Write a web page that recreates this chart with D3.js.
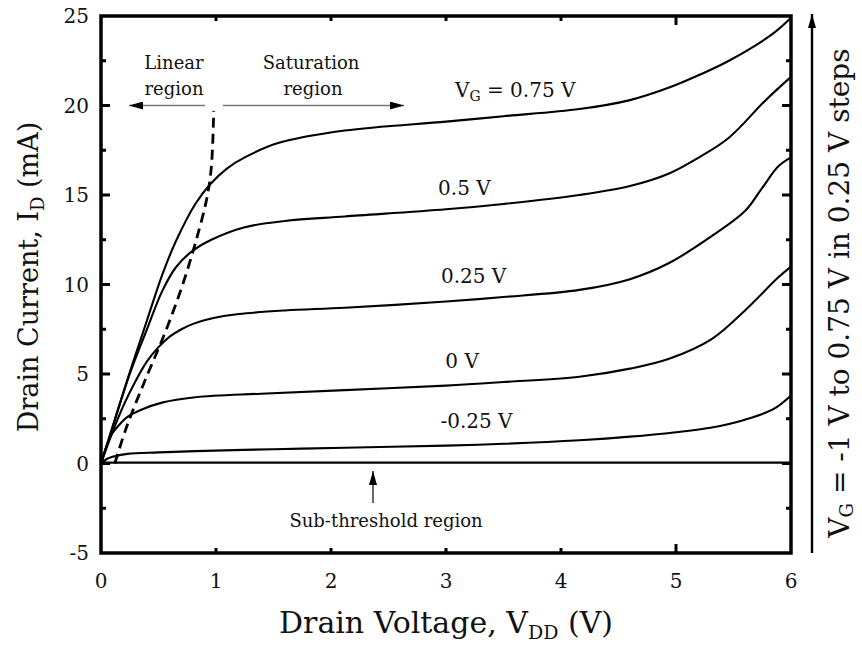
<!DOCTYPE html>
<html>
<head>
<meta charset="utf-8">
<script src="https://cdn.jsdelivr.net/npm/d3@7/dist/d3.min.js"></script>
<style>
  body { margin: 0; background: #fff; }
  text { font-family: "DejaVu Serif", serif; fill: #111; }
</style>
</head>
<body>
<div id="chart"></div>
<script>
const W = 862, H = 649;

// drain voltage (V) / drain current (mA)
const vg075 = [[0,0],[0.1,2.05],[0.25,5.1],[0.4,8.0],[0.53,10.5],[0.65,12.4],[0.82,14.5],[0.95,15.6],[1.1,16.5],[1.25,17.1],[1.54,17.9],[2.12,18.6],[3,19.1],[3.5,19.4],[4.16,19.8],[4.6,20.3],[4.94,21.0],[5.2,21.7],[5.46,22.5],[5.84,24.0],[6,24.9]];
const vg050 = [[0,0],[0.1,2.0],[0.25,5.0],[0.4,7.5],[0.53,9.6],[0.65,10.95],[0.79,11.85],[0.96,12.5],[1.25,13.2],[1.6,13.55],[2.12,13.8],[3,14.2],[3.5,14.5],[4.16,15.0],[4.6,15.5],[4.94,16.2],[5.2,17.1],[5.46,18.2],[5.78,20.3],[6,21.6]];
const vg025 = [[0,0],[0.1,1.75],[0.2,3.3],[0.3,4.6],[0.4,5.7],[0.5,6.5],[0.6,7.1],[0.7,7.5],[0.8,7.8],[0.96,8.1],[1.2,8.35],[1.6,8.55],[2.12,8.7],[3,9.05],[3.5,9.3],[4.16,9.7],[4.6,10.3],[4.94,11.2],[5.31,12.7],[5.6,14.1],[5.75,15.4],[5.89,16.6],[6,17.1]];
const vg000 = [[0,0],[0.05,1.0],[0.1,1.7],[0.15,2.1],[0.23,2.6],[0.35,3.0],[0.53,3.4],[0.82,3.7],[1.39,3.9],[2.12,4.1],[3,4.35],[3.5,4.55],[4.16,4.85],[4.6,5.3],[4.94,5.85],[5.31,6.95],[5.6,8.55],[5.89,10.4],[6,11.0]];
const vgm025 = [[0,0],[0.05,0.25],[0.1,0.38],[0.23,0.54],[0.5,0.62],[0.82,0.69],[1.5,0.8],[2.12,0.88],[3,1.0],[3.5,1.1],[4.16,1.3],[4.6,1.5],[5.0,1.75],[5.3,2.0],[5.6,2.45],[5.85,3.05],[6,3.8]];
const subThreshold = [[0,0.05],[6,0.05]];
const pinchOff = [[0.12,0],[0.22,2.0],[0.38,4.6],[0.55,7.2],[0.7,9.8],[0.82,12.3],[0.92,14.8],[0.96,16.6],[0.98,19.7]];

const curveLabels = [
  { text: "0.5 V", x: 3.16, y: 15.0 },
  { text: "0.25 V", x: 3.24, y: 10.08 },
  { text: "0 V", x: 3.14, y: 5.34 },
  { text: "-0.25 V", x: 3.265, y: 1.98 }
];

const xTicks = [0, 1, 2, 3, 4, 5, 6];
const yTicks = [-5, 0, 5, 10, 15, 20, 25];
const yMinor = [-2.5, 2.5, 7.5, 12.5, 17.5, 22.5];

const x = d3.scaleLinear().domain([0, 6]).range([101, 791]);
const y = d3.scaleLinear().domain([-5, 25]).range([553, 16]);

const svg = d3.select("#chart").append("svg")
  .attr("width", W)
  .attr("height", H);

const defs = svg.append("defs");
defs.append("marker")
  .attr("id", "head")
  .attr("viewBox", "0 0 14 8")
  .attr("refX", 14)
  .attr("refY", 4)
  .attr("markerUnits", "userSpaceOnUse")
  .attr("markerWidth", 14)
  .attr("markerHeight", 8)
  .attr("orient", "auto")
  .append("path")
  .attr("d", "M0,0 L14,4 L0,8 z")
  .attr("fill", "#000");

const line = d3.line()
  .x(d => x(d[0]))
  .y(d => y(d[1]))
  .curve(d3.curveCatmullRom.alpha(0.5));

// curves
const curves = [vg075, vg050, vg025, vg000, vgm025, subThreshold];
svg.append("g")
  .selectAll("path")
  .data(curves)
  .enter().append("path")
  .attr("d", line)
  .attr("fill", "none")
  .attr("stroke", "#000")
  .attr("stroke-width", 2.1);

svg.append("path")
  .attr("d", line(pinchOff))
  .attr("fill", "none")
  .attr("stroke", "#000")
  .attr("stroke-width", 2.8)
  .attr("stroke-dasharray", "10,6");

// frame + ticks
const axes = svg.append("g");
axes.append("rect")
  .attr("x", x(0)).attr("y", y(25))
  .attr("width", x(6) - x(0)).attr("height", y(-5) - y(25))
  .attr("fill", "none")
  .attr("stroke", "#000")
  .attr("stroke-width", 3.5);

xTicks.slice(1, -1).forEach(v => {
  const len = v === 5 ? 9 : 5;
  axes.append("line").attr("x1", x(v)).attr("x2", x(v)).attr("y1", y(-5)).attr("y2", y(-5) - len);
  axes.append("line").attr("x1", x(v)).attr("x2", x(v)).attr("y1", y(25)).attr("y2", y(25) + len);
});
yTicks.slice(1, -1).map(v => [v, true]).concat(yMinor.map(v => [v, false])).forEach(([v, major]) => {
  const len = major ? 9 : 5;
  axes.append("line").attr("x1", x(0)).attr("x2", x(0) + len).attr("y1", y(v)).attr("y2", y(v));
  axes.append("line").attr("x1", x(6)).attr("x2", x(6) - len).attr("y1", y(v)).attr("y2", y(v));
});
axes.selectAll("line").attr("stroke", "#000").attr("stroke-width", 3);

axes.selectAll(".xl")
  .data(xTicks)
  .enter().append("text")
  .attr("x", d => x(d))
  .attr("y", 588)
  .attr("text-anchor", "middle")
  .style("font-size", "20px")
  .text(d => d);

axes.selectAll(".yl")
  .data(yTicks)
  .enter().append("text")
  .attr("x", 89)
  .attr("y", d => y(d) + 7)
  .attr("text-anchor", "end")
  .style("font-size", "20px")
  .text(d => d);

// subscript helper: shifts down by dy px, then back up
function withSub(sel, main, sub, rest, subSize, dy) {
  sel.append("tspan").text(main);
  sel.append("tspan").attr("dy", dy).style("font-size", subSize + "px").text(sub);
  sel.append("tspan").attr("dy", -dy).text(rest);
}

// axis titles
withSub(svg.append("text")
  .attr("x", 446).attr("y", 633)
  .attr("text-anchor", "middle")
  .style("font-size", "30px"), "Drain Voltage, V", "DD", " (V)", 19, 6);

withSub(svg.append("text")
  .attr("transform", "translate(38,277) rotate(-90)")
  .attr("text-anchor", "middle")
  .style("font-size", "27px"), "Drain Current, I", "D", " (mA)", 18, 6);

// region annotations
svg.append("line")
  .attr("x1", 205).attr("y1", y(20)).attr("x2", 129).attr("y2", y(20))
  .attr("stroke", "#777").attr("stroke-width", 1.6).attr("marker-end", "url(#head)");
svg.append("line")
  .attr("x1", 223).attr("y1", y(20)).attr("x2", 404).attr("y2", y(20))
  .attr("stroke", "#777").attr("stroke-width", 1.6).attr("marker-end", "url(#head)");

function label(t, cx, by, size, anchor) {
  return svg.append("text").attr("x", cx).attr("y", by)
    .attr("text-anchor", anchor || "middle")
    .style("font-size", size + "px").text(t);
}
label("Linear", 174, 69, 18);
label("region", 174, 95, 18);
label("Saturation", 311, 69, 18);
label("region", 313, 95, 18);

withSub(svg.append("text").attr("x", 455).attr("y", 97).style("font-size", "20px"),
  "V", "G", " = 0.75 V", 14, 4);

svg.append("g").selectAll("text")
  .data(curveLabels)
  .enter().append("text")
  .attr("x", d => x(d.x))
  .attr("y", d => y(d.y))
  .attr("text-anchor", "middle")
  .style("font-size", "20px")
  .text(d => d.text);

svg.append("line")
  .attr("x1", 373).attr("y1", 503).attr("x2", 373).attr("y2", 471)
  .attr("stroke", "#000").attr("stroke-width", 1.2).attr("marker-end", "url(#head)");
label("Sub-threshold region", 386, 527, 18);

// gate voltage sweep arrow on the right
svg.append("line")
  .attr("x1", 812).attr("y1", 553).attr("x2", 812).attr("y2", 14)
  .attr("stroke", "#000").attr("stroke-width", 2.4).attr("marker-end", "url(#head)");

withSub(svg.append("text")
  .attr("transform", "translate(849,293) rotate(-90)")
  .attr("text-anchor", "middle")
  .style("font-size", "28px"), "V", "G", " = -1 V to 0.75 V in 0.25 V steps", 18, 4);
</script>
</body>
</html>
